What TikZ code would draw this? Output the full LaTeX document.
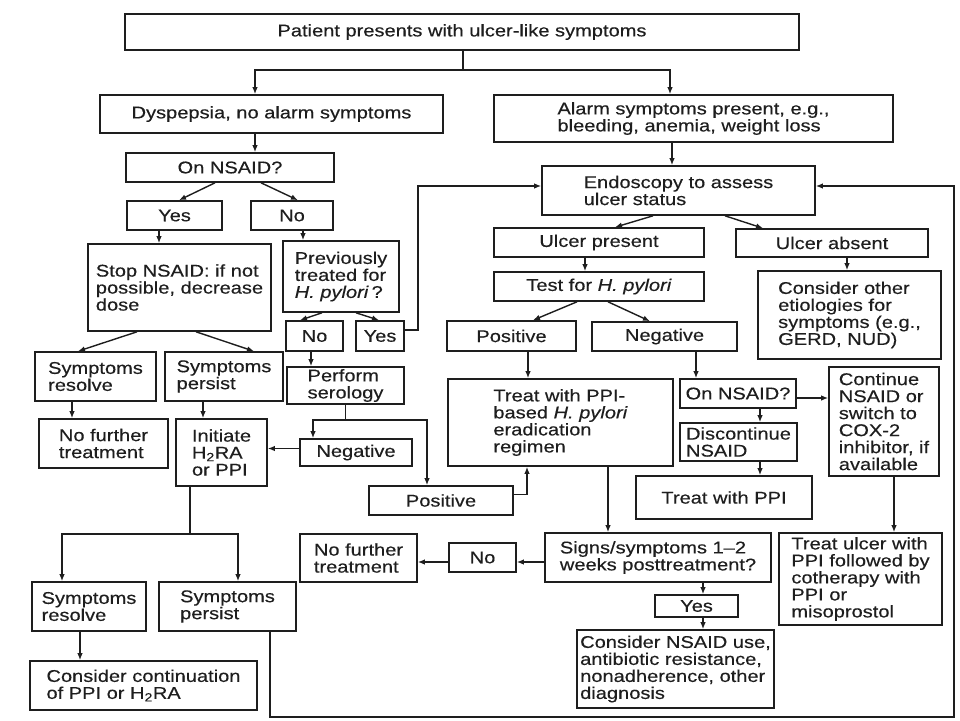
\documentclass[tikz,border=0pt]{standalone}
\usepackage{fontspec}
\setmainfont{Liberation Sans}[FakeStretch=1.18,FakeBold=0.35]
\usetikzlibrary{arrows.meta}
\definecolor{ink}{HTML}{1E1E1E}
\tikzset{
  box/.style={draw=ink, text=ink, line width=1.6pt, inner sep=0pt, align=left,
    font=\fontsize{17}{17}\selectfont},
  conn/.style={draw=ink, line width=1.4pt},
  arr/.style={conn, -{Latex[length=7pt,width=5.5pt]}}
}
\newcommand\fbx[6]{%
  \pgfmathsetmacro\bxw{#4-#2}\pgfmathsetmacro\bxh{#5-#3}%
  \pgfmathsetmacro\bxx{(#2+#4)/2}\pgfmathsetmacro\bxy{(#3+#5)/2}%
  \node[box, minimum width=\bxw pt, minimum height=\bxh pt] (#1) at (\bxx,\bxy) {#6};}
\begin{document}
\begin{tikzpicture}[x=1pt,y=-1pt]
\useasboundingbox[fill=white] (0,0) rectangle (960,720);
% left column
\fbx{top}{125}{14}{799}{50}{Patient presents with ulcer-like symptoms}
\fbx{dysp}{100}{95}{443}{133}{Dyspepsia, no alarm symptoms}
\fbx{onn1}{126}{153}{334}{182}{On NSAID?}
\fbx{yes1}{127}{201}{222}{230}{Yes}
\fbx{no1}{251}{201}{333}{230}{No}
\fbx{stop}{88}{244}{271}{331}{Stop NSAID: if not\\possible, decrease\\dose}
\fbx{prev}{283}{241}{399}{312}{Previously\\treated for\\\textit{H. pylori}\,?}
\fbx{no2}{286}{321}{343}{351}{No}
\fbx{yes2}{356}{321}{404}{351}{Yes}
\fbx{sres1}{35}{352}{156}{401}{Symptoms\\resolve}
\fbx{sper1}{165}{352}{283}{401}{Symptoms\\persist}
\fbx{nft1}{39}{419}{168}{468}{No further\\treatment}
\fbx{init}{176}{419}{267}{486}{Initiate\\H\textsubscript{2}RA\\or PPI}
\fbx{sero}{287}{367}{404}{404}{Perform\\serology}
\fbx{neg1}{300}{439}{412}{466}{Negative}
\fbx{pos1}{369}{486}{513}{515}{Positive}
\fbx{sres2}{32}{582}{146}{631}{Symptoms\\resolve}
\fbx{sper2}{159}{582}{296}{631}{Symptoms\\persist}
\fbx{cont}{30}{661}{257}{710}{Consider continuation\\of PPI or H\textsubscript{2}RA}
% right column
\fbx{alarm}{494}{95}{893}{142}{Alarm symptoms present, e.g.,\\bleeding, anemia, weight loss}
\fbx{endo}{542}{166}{815}{215}{Endoscopy to assess\\ulcer status}
\fbx{upres}{494}{228}{704}{257}{Ulcer present}
\fbx{uabs}{736}{229}{928}{257}{Ulcer absent}
\fbx{test}{494}{272}{704}{301}{Test for \textit{H. pylori}}
\fbx{other}{758}{271}{941}{359}{Consider other\\etiologies for\\symptoms (e.g.,\\GERD, NUD)}
\fbx{pos2}{447}{321}{576}{351}{Positive}
\fbx{neg2}{592}{322}{737}{351}{Negative}
\fbx{treatpp}{448}{379}{673}{466}{Treat with PPI-\\based \textit{H. pylori}\\eradication\\regimen}
\fbx{onn2}{680}{379}{796}{408}{On NSAID?}
\fbx{contin}{829}{367}{939}{476}{Continue\\NSAID or\\switch to\\COX-2\\inhibitor, if\\available}
\fbx{disc}{680}{423}{797}{461}{Discontinue\\NSAID}
\fbx{tppi}{636}{476}{812}{519}{Treat with PPI}
\fbx{signs}{545}{533}{771}{582}{Signs/symptoms 1--2\\weeks posttreatment?}
\fbx{tulcer}{779}{533}{942}{625}{Treat ulcer with\\PPI followed by\\cotherapy with\\PPI or\\misoprostol}
\fbx{no3}{449}{543}{516}{572}{No}
\fbx{nft2}{300}{534}{417}{582}{No further\\treatment}
\fbx{yes3}{655}{595}{738}{617}{Yes}
\fbx{cnsaid}{577}{630}{774}{708}{Consider NSAID use,\\antibiotic resistance,\\nonadherence, other\\diagnosis}
% connectors
\coordinate (split) at (463,70);
\draw[conn] (top.south -| split) -- (split);
\draw[arr] (split) -| ([xshift=-16.5pt]dysp.north);
\draw[arr] (split) -| ([xshift=-23.5pt]alarm.north);
\draw[arr] ([xshift=-16.5pt]dysp.south) -- ([xshift=25pt]onn1.north);
\draw[arr] ([xshift=-15pt]onn1.south) -- ([xshift=4.5pt]yes1.north);
\draw[arr] ([xshift=31pt]onn1.south) -- ([xshift=6pt]no1.north);
\draw[arr] ([xshift=-15.5pt]yes1.south) -- ([xshift=-20.5pt]stop.north);
\draw[arr] ([xshift=11pt]no1.south) -- ([xshift=-38pt]prev.north);
\draw[arr] ([xshift=-19pt]prev.south) -- ([xshift=-14.5pt]no2.north);
\draw[arr] ([xshift=15pt]prev.south) -- ([xshift=-1pt]yes2.north);
\draw[arr] ([yshift=6pt]yes2.east) -- ++(13,0) |- ([yshift=4.5pt]endo.west);
\draw[arr] ([xshift=-42.5pt]stop.south) -- ([xshift=-17.5pt]sres1.north);
\draw[arr] ([xshift=16.5pt]stop.south) -- ([xshift=30pt]sper1.north);
\draw[arr] ([xshift=-23.5pt]sres1.south) -- ([xshift=-31.5pt]nft1.north);
\draw[arr] ([xshift=-21pt]sper1.south) -- ([xshift=-18.5pt]init.north);
\draw[arr] ([xshift=-3.5pt]no2.south) -- ([xshift=-34.5pt]sero.north);
\draw[arr] (sero.south) -- ++(0,15) -| ([xshift=-43pt]neg1.north);
\draw[arr] (sero.south) -- ++(0,15) -| ([xshift=-14pt]pos1.north);
\draw[arr] ([yshift=4pt]neg1.west) -- ([yshift=4pt]neg1.west -| init.east);
\draw[arr] ([yshift=6pt]pos1.east) -- ++(14,0) -| ([xshift=-33.5pt]treatpp.south);
\draw[arr] ([xshift=-31.5pt]init.south) -- ++(0,47) -| ([xshift=-27pt]sres2.north);
\draw[arr] ([xshift=-31.5pt]init.south) -- ++(0,47) -| ([xshift=10.5pt]sper2.north);
\draw[arr] ([xshift=-9pt]sres2.south) -- ([xshift=-63.5pt]cont.north);
\coordinate (loopc) at (954,717);
\draw[arr] ([xshift=42.5pt]sper2.south) |- (loopc) |- ([yshift=4.5pt]endo.east);
\draw[arr] ([xshift=-21.5pt]alarm.south) -- ([xshift=-6.5pt]endo.north);
\draw[arr] ([xshift=-25.5pt]endo.south) -- ([xshift=16pt]upres.north);
\draw[arr] ([xshift=46.5pt]endo.south) -- ([xshift=-69pt]uabs.north);
\draw[arr] ([xshift=-14pt]upres.south) -- ([xshift=-14pt]test.north);
\draw[arr] ([xshift=15pt]uabs.south) -- ([xshift=-2.5pt]other.north);
\draw[arr] ([xshift=-22pt]test.south) -- ([xshift=21.5pt]pos2.north);
\draw[arr] ([xshift=9pt]test.south) -- ([xshift=-14.5pt]neg2.north);
\draw[arr] ([xshift=16.5pt]pos2.south) -- ([xshift=-32.5pt]treatpp.north);
\draw[arr] ([xshift=31.5pt]neg2.south) -- ([xshift=-42pt]onn2.north);
\draw[arr] ([yshift=-4.5pt]onn2.east) -- ([yshift=-4.5pt]onn2.east -| contin.west);
\draw[arr] ([xshift=22pt]onn2.south) -- ([xshift=21.5pt]disc.north);
\draw[arr] ([xshift=21.5pt]disc.south) -- ([xshift=36pt]tppi.north);
\draw[arr] ([xshift=10pt]contin.south) -- ([xshift=33.5pt]tulcer.north);
\draw[arr] ([xshift=47.5pt]treatpp.south) -- ([xshift=-50pt]signs.north);
\draw[arr] ([yshift=-4.5pt]signs.west) -- ([yshift=-4.5pt]no3.east);
\draw[arr] ([yshift=-4.5pt]no3.west) -- ([yshift=-4.5pt]no3.west -| nft2.east);
\draw[arr] ([xshift=45pt]signs.south) -- ([xshift=6.5pt]yes3.north);
\draw[arr] ([xshift=6.5pt]yes3.south) -- ([xshift=27.5pt]cnsaid.north);
\end{tikzpicture}
\end{document}
